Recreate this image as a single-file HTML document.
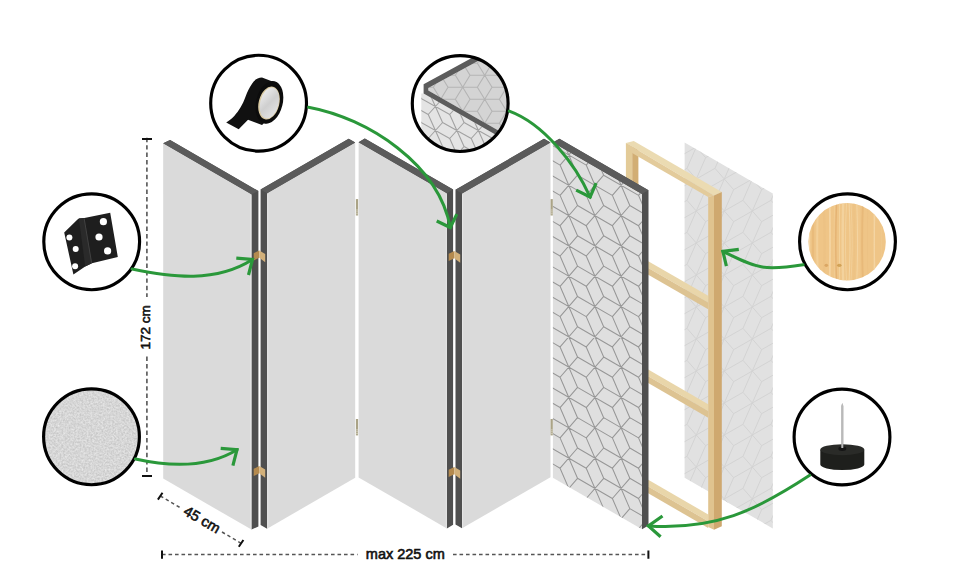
<!DOCTYPE html><html><head><meta charset="utf-8"><style>html,body{margin:0;padding:0;background:#fff;overflow:hidden}svg{display:block}text{font-family:"Liberation Sans",sans-serif}</style></head><body><svg width="960" height="576" viewBox="0 0 960 576"><defs><clipPath id="cSheet"><polygon points="684.6,142.6 772.8,193.5 772.8,528.4 684.6,477.8"/></clipPath><clipPath id="cP5"><polygon points="552.9,142.5 642,193.95 642,529.25 552.9,477.8"/></clipPath><clipPath id="cC2"><circle cx="460.2" cy="103.6" r="47.5"/></clipPath><clipPath id="cWood"><circle cx="847.1" cy="241.8" r="38.7"/></clipPath><filter id="felt" x="0" y="0" width="100%" height="100%" color-interpolation-filters="sRGB"><feTurbulence type="fractalNoise" baseFrequency="0.55" numOctaves="2" seed="5"/><feColorMatrix type="matrix" values="0.2 0 0 0 0.74  0.2 0 0 0 0.74  0.2 0 0 0 0.74  0 0 0 0 1"/><feComposite in2="SourceGraphic" operator="in"/></filter><linearGradient id="core" x1="0" y1="0" x2="1" y2="1"><stop offset="0" stop-color="#f4f4f4"/><stop offset="0.5" stop-color="#cfcfcf"/><stop offset="1" stop-color="#e8e8e8"/></linearGradient></defs><polygon points="684.6,142.6 772.8,193.5 772.8,528.4 684.6,477.8" fill="#e1e1e1"/><g clip-path="url(#cSheet)"><path d="M798.97 104.33L761.63 125.67M789.63 125.67L770.97 104.33M789.63 93.67L770.97 136.33M798.97 136.33L761.63 157.67M789.63 157.67L770.97 136.33M789.63 125.67L770.97 168.33M798.97 168.33L761.63 189.67M789.63 189.67L770.97 168.33M789.63 157.67L770.97 200.33M798.97 200.33L761.63 221.67M789.63 221.67L770.97 200.33M789.63 189.67L770.97 232.33M798.97 232.33L761.63 253.67M789.63 253.67L770.97 232.33M789.63 221.67L770.97 264.33M798.97 264.33L761.63 285.67M789.63 285.67L770.97 264.33M789.63 253.67L770.97 296.33M798.97 296.33L761.63 317.67M789.63 317.67L770.97 296.33M789.63 285.67L770.97 328.33M798.97 328.33L761.63 349.67M789.63 349.67L770.97 328.33M789.63 317.67L770.97 360.33M798.97 360.33L761.63 381.67M789.63 381.67L770.97 360.33M789.63 349.67L770.97 392.33M798.97 392.33L761.63 413.67M789.63 413.67L770.97 392.33M789.63 381.67L770.97 424.33M798.97 424.33L761.63 445.67M789.63 445.67L770.97 424.33M789.63 413.67L770.97 456.33M798.97 456.33L761.63 477.67M789.63 477.67L770.97 456.33M789.63 445.67L770.97 488.33M798.97 488.33L761.63 509.67M789.63 509.67L770.97 488.33M789.63 477.67L770.97 520.33M798.97 520.33L761.63 541.67M789.63 541.67L770.97 520.33M789.63 509.67L770.97 552.33M770.97 104.33L733.63 125.67M761.63 125.67L742.97 104.33M761.63 93.67L742.97 136.33M770.97 136.33L733.63 157.67M761.63 157.67L742.97 136.33M761.63 125.67L742.97 168.33M770.97 168.33L733.63 189.67M761.63 189.67L742.97 168.33M761.63 157.67L742.97 200.33M770.97 200.33L733.63 221.67M761.63 221.67L742.97 200.33M761.63 189.67L742.97 232.33M770.97 232.33L733.63 253.67M761.63 253.67L742.97 232.33M761.63 221.67L742.97 264.33M770.97 264.33L733.63 285.67M761.63 285.67L742.97 264.33M761.63 253.67L742.97 296.33M770.97 296.33L733.63 317.67M761.63 317.67L742.97 296.33M761.63 285.67L742.97 328.33M770.97 328.33L733.63 349.67M761.63 349.67L742.97 328.33M761.63 317.67L742.97 360.33M770.97 360.33L733.63 381.67M761.63 381.67L742.97 360.33M761.63 349.67L742.97 392.33M770.97 392.33L733.63 413.67M761.63 413.67L742.97 392.33M761.63 381.67L742.97 424.33M770.97 424.33L733.63 445.67M761.63 445.67L742.97 424.33M761.63 413.67L742.97 456.33M770.97 456.33L733.63 477.67M761.63 477.67L742.97 456.33M761.63 445.67L742.97 488.33M770.97 488.33L733.63 509.67M761.63 509.67L742.97 488.33M761.63 477.67L742.97 520.33M770.97 520.33L733.63 541.67M761.63 541.67L742.97 520.33M761.63 509.67L742.97 552.33M742.97 104.33L705.63 125.67M733.63 125.67L714.97 104.33M733.63 93.67L714.97 136.33M742.97 136.33L705.63 157.67M733.63 157.67L714.97 136.33M733.63 125.67L714.97 168.33M742.97 168.33L705.63 189.67M733.63 189.67L714.97 168.33M733.63 157.67L714.97 200.33M742.97 200.33L705.63 221.67M733.63 221.67L714.97 200.33M733.63 189.67L714.97 232.33M742.97 232.33L705.63 253.67M733.63 253.67L714.97 232.33M733.63 221.67L714.97 264.33M742.97 264.33L705.63 285.67M733.63 285.67L714.97 264.33M733.63 253.67L714.97 296.33M742.97 296.33L705.63 317.67M733.63 317.67L714.97 296.33M733.63 285.67L714.97 328.33M742.97 328.33L705.63 349.67M733.63 349.67L714.97 328.33M733.63 317.67L714.97 360.33M742.97 360.33L705.63 381.67M733.63 381.67L714.97 360.33M733.63 349.67L714.97 392.33M742.97 392.33L705.63 413.67M733.63 413.67L714.97 392.33M733.63 381.67L714.97 424.33M742.97 424.33L705.63 445.67M733.63 445.67L714.97 424.33M733.63 413.67L714.97 456.33M742.97 456.33L705.63 477.67M733.63 477.67L714.97 456.33M733.63 445.67L714.97 488.33M742.97 488.33L705.63 509.67M733.63 509.67L714.97 488.33M733.63 477.67L714.97 520.33M742.97 520.33L705.63 541.67M733.63 541.67L714.97 520.33M733.63 509.67L714.97 552.33M714.97 104.33L677.63 125.67M705.63 125.67L686.97 104.33M705.63 93.67L686.97 136.33M714.97 136.33L677.63 157.67M705.63 157.67L686.97 136.33M705.63 125.67L686.97 168.33M714.97 168.33L677.63 189.67M705.63 189.67L686.97 168.33M705.63 157.67L686.97 200.33M714.97 200.33L677.63 221.67M705.63 221.67L686.97 200.33M705.63 189.67L686.97 232.33M714.97 232.33L677.63 253.67M705.63 253.67L686.97 232.33M705.63 221.67L686.97 264.33M714.97 264.33L677.63 285.67M705.63 285.67L686.97 264.33M705.63 253.67L686.97 296.33M714.97 296.33L677.63 317.67M705.63 317.67L686.97 296.33M705.63 285.67L686.97 328.33M714.97 328.33L677.63 349.67M705.63 349.67L686.97 328.33M705.63 317.67L686.97 360.33M714.97 360.33L677.63 381.67M705.63 381.67L686.97 360.33M705.63 349.67L686.97 392.33M714.97 392.33L677.63 413.67M705.63 413.67L686.97 392.33M705.63 381.67L686.97 424.33M714.97 424.33L677.63 445.67M705.63 445.67L686.97 424.33M705.63 413.67L686.97 456.33M714.97 456.33L677.63 477.67M705.63 477.67L686.97 456.33M705.63 445.67L686.97 488.33M714.97 488.33L677.63 509.67M705.63 509.67L686.97 488.33M705.63 477.67L686.97 520.33M714.97 520.33L677.63 541.67M705.63 541.67L686.97 520.33M705.63 509.67L686.97 552.33M686.97 104.33L649.63 125.67M677.63 125.67L658.97 104.33M677.63 93.67L658.97 136.33M686.97 136.33L649.63 157.67M677.63 157.67L658.97 136.33M677.63 125.67L658.97 168.33M686.97 168.33L649.63 189.67M677.63 189.67L658.97 168.33M677.63 157.67L658.97 200.33M686.97 200.33L649.63 221.67M677.63 221.67L658.97 200.33M677.63 189.67L658.97 232.33M686.97 232.33L649.63 253.67M677.63 253.67L658.97 232.33M677.63 221.67L658.97 264.33M686.97 264.33L649.63 285.67M677.63 285.67L658.97 264.33M677.63 253.67L658.97 296.33M686.97 296.33L649.63 317.67M677.63 317.67L658.97 296.33M677.63 285.67L658.97 328.33M686.97 328.33L649.63 349.67M677.63 349.67L658.97 328.33M677.63 317.67L658.97 360.33M686.97 360.33L649.63 381.67M677.63 381.67L658.97 360.33M677.63 349.67L658.97 392.33M686.97 392.33L649.63 413.67M677.63 413.67L658.97 392.33M677.63 381.67L658.97 424.33M686.97 424.33L649.63 445.67M677.63 445.67L658.97 424.33M677.63 413.67L658.97 456.33M686.97 456.33L649.63 477.67M677.63 477.67L658.97 456.33M677.63 445.67L658.97 488.33M686.97 488.33L649.63 509.67M677.63 509.67L658.97 488.33M677.63 477.67L658.97 520.33M686.97 520.33L649.63 541.67M677.63 541.67L658.97 520.33M677.63 509.67L658.97 552.33" stroke="#d3d3d3" stroke-width="1" fill="none"/></g><polygon points="625.9,143 632.2,146.5 632.2,200 625.9,200" fill="#e3cb98"/><polygon points="632.2,146.5 638.4,150 638.4,200 632.2,200" fill="#d2ae74"/><polygon points="640,256.38 708.2,295.76 708.2,302.51 640,263.13" fill="#e9d6aa"/><polygon points="640,263.13 708.2,302.51 708.2,309.26 640,269.88" fill="#ddc392"/><polygon points="640,364.78 708.2,404.16 708.2,410.91 640,371.53" fill="#e9d6aa"/><polygon points="640,371.53 708.2,410.91 708.2,417.66 640,378.28" fill="#ddc392"/><polygon points="640,475.08 708.2,514.46 708.2,521.21 640,481.83" fill="#e9d6aa"/><polygon points="640,481.83 708.2,521.21 708.2,527.96 640,488.58" fill="#ddc392"/><polygon points="625.9,143 633.75,141 721.8,191.9 714,195.6" fill="#ebdbb2"/><polygon points="625.9,143 714,195.6 708.2,197 638.4,156.7 632.2,153" fill="#e3cb9b"/><polygon points="708.2,197 714,195.6 714,529.8 708.2,527" fill="#e0c38f"/><polygon points="714,195.6 721.8,191.9 721.8,526.3 714,529.8" fill="#cfa86f"/><polygon points="163.2,143.2 251.5,194.18 251.5,529.58 163.2,478.6" fill="#dadada"/><polygon points="163.2,143.2 170.1,140.1 258.4,191.08 258.4,526.48 251.5,529.58 251.5,194.18" fill="#4f4f4f"/><polygon points="163.2,143.2 251.5,194.18 258.4,191.08 170.1,140.1" fill="#5b5b5b"/><line x1="250.9" y1="195.18" x2="250.9" y2="529.08" stroke="#e6e6e6" stroke-width="1"/><polygon points="355.2,142.4 267.1,193.27 267.1,528.67 355.2,477.8" fill="#dadada"/><polygon points="355.2,142.4 348.7,138.65 260.6,189.52 260.6,524.92 267.1,528.67 267.1,193.27" fill="#4f4f4f"/><polygon points="355.2,142.4 267.1,193.27 260.6,189.52 348.7,138.65" fill="#5b5b5b"/><line x1="267.7" y1="194.27" x2="267.7" y2="528.17" stroke="#e6e6e6" stroke-width="1"/><polygon points="358.6,142.2 446.9,193.18 446.9,528.38 358.6,477.4" fill="#dadada"/><polygon points="358.6,142.2 364.8,138.6 453.1,189.58 453.1,524.78 446.9,528.38 446.9,193.18" fill="#4f4f4f"/><polygon points="358.6,142.2 446.9,193.18 453.1,189.58 364.8,138.6" fill="#5b5b5b"/><line x1="446.3" y1="194.18" x2="446.3" y2="527.88" stroke="#e6e6e6" stroke-width="1"/><polygon points="550.5,142.5 462,193.6 462,528.3 550.5,477.2" fill="#dadada"/><polygon points="550.5,142.5 544,138.75 455.5,189.85 455.5,524.55 462,528.3 462,193.6" fill="#4f4f4f"/><polygon points="550.5,142.5 462,193.6 455.5,189.85 544,138.75" fill="#5b5b5b"/><line x1="462.6" y1="194.6" x2="462.6" y2="527.8" stroke="#e6e6e6" stroke-width="1"/><polygon points="552.9,142.5 642,193.95 642,529.25 552.9,477.8" fill="#dfdfdf"/><g clip-path="url(#cP5)"><path d="M525.22 114.57L560.08 134.77M533.93 134.77L551.37 114.57M533.93 104.46L551.37 144.88M525.22 144.88L560.08 165.08M533.93 165.08L551.37 144.88M533.93 134.77L551.37 175.19M525.22 175.19L560.08 195.39M533.93 195.39L551.37 175.19M533.93 165.08L551.37 205.5M525.22 205.5L560.08 225.7M533.93 225.7L551.37 205.5M533.93 195.39L551.37 235.81M525.22 235.81L560.08 256.01M533.93 256.01L551.37 235.81M533.93 225.7L551.37 266.12M525.22 266.12L560.08 286.32M533.93 286.32L551.37 266.12M533.93 256.01L551.37 296.43M525.22 296.43L560.08 316.63M533.93 316.63L551.37 296.43M533.93 286.32L551.37 326.74M525.22 326.74L560.08 346.94M533.93 346.94L551.37 326.74M533.93 316.63L551.37 357.05M525.22 357.05L560.08 377.25M533.93 377.25L551.37 357.05M533.93 346.94L551.37 387.36M525.22 387.36L560.08 407.56M533.93 407.56L551.37 387.36M533.93 377.25L551.37 417.67M525.22 417.67L560.08 437.87M533.93 437.87L551.37 417.67M533.93 407.56L551.37 447.98M525.22 447.98L560.08 468.18M533.93 468.18L551.37 447.98M533.93 437.87L551.37 478.29M525.22 478.29L560.08 498.49M533.93 498.49L551.37 478.29M533.93 468.18L551.37 508.6M525.22 508.6L560.08 528.8M533.93 528.8L551.37 508.6M533.93 498.49L551.37 538.91M525.22 538.91L560.08 559.11M533.93 559.11L551.37 538.91M533.93 528.8L551.37 569.22M551.37 114.57L586.23 134.77M560.08 134.77L577.52 114.57M560.08 104.46L577.52 144.88M551.37 144.88L586.23 165.08M560.08 165.08L577.52 144.88M560.08 134.77L577.52 175.19M551.37 175.19L586.23 195.39M560.08 195.39L577.52 175.19M560.08 165.08L577.52 205.5M551.37 205.5L586.23 225.7M560.08 225.7L577.52 205.5M560.08 195.39L577.52 235.81M551.37 235.81L586.23 256.01M560.08 256.01L577.52 235.81M560.08 225.7L577.52 266.12M551.37 266.12L586.23 286.32M560.08 286.32L577.52 266.12M560.08 256.01L577.52 296.43M551.37 296.43L586.23 316.63M560.08 316.63L577.52 296.43M560.08 286.32L577.52 326.74M551.37 326.74L586.23 346.94M560.08 346.94L577.52 326.74M560.08 316.63L577.52 357.05M551.37 357.05L586.23 377.25M560.08 377.25L577.52 357.05M560.08 346.94L577.52 387.36M551.37 387.36L586.23 407.56M560.08 407.56L577.52 387.36M560.08 377.25L577.52 417.67M551.37 417.67L586.23 437.87M560.08 437.87L577.52 417.67M560.08 407.56L577.52 447.98M551.37 447.98L586.23 468.18M560.08 468.18L577.52 447.98M560.08 437.87L577.52 478.29M551.37 478.29L586.23 498.49M560.08 498.49L577.52 478.29M560.08 468.18L577.52 508.6M551.37 508.6L586.23 528.8M560.08 528.8L577.52 508.6M560.08 498.49L577.52 538.91M551.37 538.91L586.23 559.11M560.08 559.11L577.52 538.91M560.08 528.8L577.52 569.22M577.52 114.57L612.38 134.77M586.23 134.77L603.67 114.57M586.23 104.46L603.67 144.88M577.52 144.88L612.38 165.08M586.23 165.08L603.67 144.88M586.23 134.77L603.67 175.19M577.52 175.19L612.38 195.39M586.23 195.39L603.67 175.19M586.23 165.08L603.67 205.5M577.52 205.5L612.38 225.7M586.23 225.7L603.67 205.5M586.23 195.39L603.67 235.81M577.52 235.81L612.38 256.01M586.23 256.01L603.67 235.81M586.23 225.7L603.67 266.12M577.52 266.12L612.38 286.32M586.23 286.32L603.67 266.12M586.23 256.01L603.67 296.43M577.52 296.43L612.38 316.63M586.23 316.63L603.67 296.43M586.23 286.32L603.67 326.74M577.52 326.74L612.38 346.94M586.23 346.94L603.67 326.74M586.23 316.63L603.67 357.05M577.52 357.05L612.38 377.25M586.23 377.25L603.67 357.05M586.23 346.94L603.67 387.36M577.52 387.36L612.38 407.56M586.23 407.56L603.67 387.36M586.23 377.25L603.67 417.67M577.52 417.67L612.38 437.87M586.23 437.87L603.67 417.67M586.23 407.56L603.67 447.98M577.52 447.98L612.38 468.18M586.23 468.18L603.67 447.98M586.23 437.87L603.67 478.29M577.52 478.29L612.38 498.49M586.23 498.49L603.67 478.29M586.23 468.18L603.67 508.6M577.52 508.6L612.38 528.8M586.23 528.8L603.67 508.6M586.23 498.49L603.67 538.91M577.52 538.91L612.38 559.11M586.23 559.11L603.67 538.91M586.23 528.8L603.67 569.22M603.67 114.57L638.53 134.77M612.38 134.77L629.82 114.57M612.38 104.46L629.82 144.88M603.67 144.88L638.53 165.08M612.38 165.08L629.82 144.88M612.38 134.77L629.82 175.19M603.67 175.19L638.53 195.39M612.38 195.39L629.82 175.19M612.38 165.08L629.82 205.5M603.67 205.5L638.53 225.7M612.38 225.7L629.82 205.5M612.38 195.39L629.82 235.81M603.67 235.81L638.53 256.01M612.38 256.01L629.82 235.81M612.38 225.7L629.82 266.12M603.67 266.12L638.53 286.32M612.38 286.32L629.82 266.12M612.38 256.01L629.82 296.43M603.67 296.43L638.53 316.63M612.38 316.63L629.82 296.43M612.38 286.32L629.82 326.74M603.67 326.74L638.53 346.94M612.38 346.94L629.82 326.74M612.38 316.63L629.82 357.05M603.67 357.05L638.53 377.25M612.38 377.25L629.82 357.05M612.38 346.94L629.82 387.36M603.67 387.36L638.53 407.56M612.38 407.56L629.82 387.36M612.38 377.25L629.82 417.67M603.67 417.67L638.53 437.87M612.38 437.87L629.82 417.67M612.38 407.56L629.82 447.98M603.67 447.98L638.53 468.18M612.38 468.18L629.82 447.98M612.38 437.87L629.82 478.29M603.67 478.29L638.53 498.49M612.38 498.49L629.82 478.29M612.38 468.18L629.82 508.6M603.67 508.6L638.53 528.8M612.38 528.8L629.82 508.6M612.38 498.49L629.82 538.91M603.67 538.91L638.53 559.11M612.38 559.11L629.82 538.91M612.38 528.8L629.82 569.22M629.82 114.57L664.68 134.77M638.53 134.77L655.97 114.57M638.53 104.46L655.97 144.88M629.82 144.88L664.68 165.08M638.53 165.08L655.97 144.88M638.53 134.77L655.97 175.19M629.82 175.19L664.68 195.39M638.53 195.39L655.97 175.19M638.53 165.08L655.97 205.5M629.82 205.5L664.68 225.7M638.53 225.7L655.97 205.5M638.53 195.39L655.97 235.81M629.82 235.81L664.68 256.01M638.53 256.01L655.97 235.81M638.53 225.7L655.97 266.12M629.82 266.12L664.68 286.32M638.53 286.32L655.97 266.12M638.53 256.01L655.97 296.43M629.82 296.43L664.68 316.63M638.53 316.63L655.97 296.43M638.53 286.32L655.97 326.74M629.82 326.74L664.68 346.94M638.53 346.94L655.97 326.74M638.53 316.63L655.97 357.05M629.82 357.05L664.68 377.25M638.53 377.25L655.97 357.05M638.53 346.94L655.97 387.36M629.82 387.36L664.68 407.56M638.53 407.56L655.97 387.36M638.53 377.25L655.97 417.67M629.82 417.67L664.68 437.87M638.53 437.87L655.97 417.67M638.53 407.56L655.97 447.98M629.82 447.98L664.68 468.18M638.53 468.18L655.97 447.98M638.53 437.87L655.97 478.29M629.82 478.29L664.68 498.49M638.53 498.49L655.97 478.29M638.53 468.18L655.97 508.6M629.82 508.6L664.68 528.8M638.53 528.8L655.97 508.6M638.53 498.49L655.97 538.91M629.82 538.91L664.68 559.11M638.53 559.11L655.97 538.91M638.53 528.8L655.97 569.22M655.97 114.57L690.83 134.77M664.68 134.77L682.12 114.57M664.68 104.46L682.12 144.88M655.97 144.88L690.83 165.08M664.68 165.08L682.12 144.88M664.68 134.77L682.12 175.19M655.97 175.19L690.83 195.39M664.68 195.39L682.12 175.19M664.68 165.08L682.12 205.5M655.97 205.5L690.83 225.7M664.68 225.7L682.12 205.5M664.68 195.39L682.12 235.81M655.97 235.81L690.83 256.01M664.68 256.01L682.12 235.81M664.68 225.7L682.12 266.12M655.97 266.12L690.83 286.32M664.68 286.32L682.12 266.12M664.68 256.01L682.12 296.43M655.97 296.43L690.83 316.63M664.68 316.63L682.12 296.43M664.68 286.32L682.12 326.74M655.97 326.74L690.83 346.94M664.68 346.94L682.12 326.74M664.68 316.63L682.12 357.05M655.97 357.05L690.83 377.25M664.68 377.25L682.12 357.05M664.68 346.94L682.12 387.36M655.97 387.36L690.83 407.56M664.68 407.56L682.12 387.36M664.68 377.25L682.12 417.67M655.97 417.67L690.83 437.87M664.68 437.87L682.12 417.67M664.68 407.56L682.12 447.98M655.97 447.98L690.83 468.18M664.68 468.18L682.12 447.98M664.68 437.87L682.12 478.29M655.97 478.29L690.83 498.49M664.68 498.49L682.12 478.29M664.68 468.18L682.12 508.6M655.97 508.6L690.83 528.8M664.68 528.8L682.12 508.6M664.68 498.49L682.12 538.91M655.97 538.91L690.83 559.11M664.68 559.11L682.12 538.91M664.68 528.8L682.12 569.22" stroke="#979797" stroke-width="1.05" fill="none"/></g><polygon points="552.9,142.5 559.4,138.75 648.5,190.2 648.5,525.5 642,529.25 642,193.95" fill="#4f4f4f"/><polygon points="552.9,142.5 642,193.95 648.5,190.2 559.4,138.75" fill="#5b5b5b"/><polygon points="253.7,253.2 259.3,250.4 259.3,257.7 253.7,260.5" fill="#b48a4f"/><polygon points="259.3,250.4 265.2,253.9 265.2,262.2 259.3,257.7" fill="#d2b07a"/><polygon points="253.7,468.8 259.3,466 259.3,473.3 253.7,476.1" fill="#b48a4f"/><polygon points="259.3,466 265.2,469.5 265.2,477.8 259.3,473.3" fill="#d2b07a"/><polygon points="448.7,253.8 454.3,251 454.3,258.3 448.7,261.1" fill="#b48a4f"/><polygon points="454.3,251 460.2,254.5 460.2,262.8 454.3,258.3" fill="#d2b07a"/><polygon points="448.7,469.8 454.3,467 454.3,474.3 448.7,477.1" fill="#b48a4f"/><polygon points="454.3,467 460.2,470.5 460.2,478.8 454.3,474.3" fill="#d2b07a"/><rect x="355.9" y="199.1" width="2.2" height="16.4" fill="#aaa386"/><rect x="355.9" y="209.6" width="2.2" height="0.8" fill="#d8d4c4"/><rect x="355.9" y="211.5" width="2.2" height="0.8" fill="#d8d4c4"/><rect x="355.9" y="213.4" width="2.2" height="0.8" fill="#d8d4c4"/><rect x="355.9" y="419" width="2.2" height="16.4" fill="#aaa386"/><rect x="355.9" y="429.5" width="2.2" height="0.8" fill="#d8d4c4"/><rect x="355.9" y="431.4" width="2.2" height="0.8" fill="#d8d4c4"/><rect x="355.9" y="433.3" width="2.2" height="0.8" fill="#d8d4c4"/><rect x="550.6" y="199.1" width="2.2" height="16.4" fill="#aaa386"/><rect x="550.6" y="209.6" width="2.2" height="0.8" fill="#d8d4c4"/><rect x="550.6" y="211.5" width="2.2" height="0.8" fill="#d8d4c4"/><rect x="550.6" y="213.4" width="2.2" height="0.8" fill="#d8d4c4"/><rect x="550.6" y="419" width="2.2" height="16.4" fill="#aaa386"/><rect x="550.6" y="429.5" width="2.2" height="0.8" fill="#d8d4c4"/><rect x="550.6" y="431.4" width="2.2" height="0.8" fill="#d8d4c4"/><rect x="550.6" y="433.3" width="2.2" height="0.8" fill="#d8d4c4"/><path d="M262 77.6 C258 77.6 254.3 80 252.2 83.4 C249.2 88 247.2 92 245.6 96.5 C242.6 105 238.6 111 234.5 115.7 C231.5 119 228.6 121 226.2 122.4 L238.7 129.2 L248 119.8 L262 125 L276 112 L279 84 Z" fill="#111"/><ellipse cx="269.4" cy="102.4" rx="13.3" ry="21.7" transform="rotate(14 269.4 102.4)" fill="#0c0c0c"/><ellipse cx="269" cy="103" rx="10.3" ry="16.8" transform="rotate(14 269 103)" fill="#d9c9a0"/><ellipse cx="269.4" cy="103" rx="9.3" ry="15.8" transform="rotate(14 269.4 103)" fill="url(#core)"/><circle cx="258.6" cy="103.2" r="47.9" fill="none" stroke="#000" stroke-width="3.15"/><g clip-path="url(#cC2)"><rect x="405" y="50" width="110" height="110" fill="#fff"/><clipPath id="cLow"><polygon points="421.3,93.6 423.6,93.6 540,159.95 540,160 421.3,160"/></clipPath><clipPath id="cUp"><polygon points="428.3,88.1 540,27.22 540,154.17 428.3,90.5"/></clipPath><polygon points="421.3,93.6 423.6,93.6 540,159.95 540,160 421.3,160" fill="#e4e4e4"/><path d="M378.07 26.5L406.73 42.5M385.23 42.5L399.57 26.5M385.23 18.5L399.57 50.5M378.07 50.5L406.73 66.5M385.23 66.5L399.57 50.5M385.23 42.5L399.57 74.5M378.07 74.5L406.73 90.5M385.23 90.5L399.57 74.5M385.23 66.5L399.57 98.5M378.07 98.5L406.73 114.5M385.23 114.5L399.57 98.5M385.23 90.5L399.57 122.5M378.07 122.5L406.73 138.5M385.23 138.5L399.57 122.5M385.23 114.5L399.57 146.5M378.07 146.5L406.73 162.5M385.23 162.5L399.57 146.5M385.23 138.5L399.57 170.5M378.07 170.5L406.73 186.5M385.23 186.5L399.57 170.5M385.23 162.5L399.57 194.5M399.57 26.5L428.23 42.5M406.73 42.5L421.07 26.5M406.73 18.5L421.07 50.5M399.57 50.5L428.23 66.5M406.73 66.5L421.07 50.5M406.73 42.5L421.07 74.5M399.57 74.5L428.23 90.5M406.73 90.5L421.07 74.5M406.73 66.5L421.07 98.5M399.57 98.5L428.23 114.5M406.73 114.5L421.07 98.5M406.73 90.5L421.07 122.5M399.57 122.5L428.23 138.5M406.73 138.5L421.07 122.5M406.73 114.5L421.07 146.5M399.57 146.5L428.23 162.5M406.73 162.5L421.07 146.5M406.73 138.5L421.07 170.5M399.57 170.5L428.23 186.5M406.73 186.5L421.07 170.5M406.73 162.5L421.07 194.5M421.07 26.5L449.73 42.5M428.23 42.5L442.57 26.5M428.23 18.5L442.57 50.5M421.07 50.5L449.73 66.5M428.23 66.5L442.57 50.5M428.23 42.5L442.57 74.5M421.07 74.5L449.73 90.5M428.23 90.5L442.57 74.5M428.23 66.5L442.57 98.5M421.07 98.5L449.73 114.5M428.23 114.5L442.57 98.5M428.23 90.5L442.57 122.5M421.07 122.5L449.73 138.5M428.23 138.5L442.57 122.5M428.23 114.5L442.57 146.5M421.07 146.5L449.73 162.5M428.23 162.5L442.57 146.5M428.23 138.5L442.57 170.5M421.07 170.5L449.73 186.5M428.23 186.5L442.57 170.5M428.23 162.5L442.57 194.5M442.57 26.5L471.23 42.5M449.73 42.5L464.07 26.5M449.73 18.5L464.07 50.5M442.57 50.5L471.23 66.5M449.73 66.5L464.07 50.5M449.73 42.5L464.07 74.5M442.57 74.5L471.23 90.5M449.73 90.5L464.07 74.5M449.73 66.5L464.07 98.5M442.57 98.5L471.23 114.5M449.73 114.5L464.07 98.5M449.73 90.5L464.07 122.5M442.57 122.5L471.23 138.5M449.73 138.5L464.07 122.5M449.73 114.5L464.07 146.5M442.57 146.5L471.23 162.5M449.73 162.5L464.07 146.5M449.73 138.5L464.07 170.5M442.57 170.5L471.23 186.5M449.73 186.5L464.07 170.5M449.73 162.5L464.07 194.5M464.07 26.5L492.73 42.5M471.23 42.5L485.57 26.5M471.23 18.5L485.57 50.5M464.07 50.5L492.73 66.5M471.23 66.5L485.57 50.5M471.23 42.5L485.57 74.5M464.07 74.5L492.73 90.5M471.23 90.5L485.57 74.5M471.23 66.5L485.57 98.5M464.07 98.5L492.73 114.5M471.23 114.5L485.57 98.5M471.23 90.5L485.57 122.5M464.07 122.5L492.73 138.5M471.23 138.5L485.57 122.5M471.23 114.5L485.57 146.5M464.07 146.5L492.73 162.5M471.23 162.5L485.57 146.5M471.23 138.5L485.57 170.5M464.07 170.5L492.73 186.5M471.23 186.5L485.57 170.5M471.23 162.5L485.57 194.5M485.57 26.5L514.23 42.5M492.73 42.5L507.07 26.5M492.73 18.5L507.07 50.5M485.57 50.5L514.23 66.5M492.73 66.5L507.07 50.5M492.73 42.5L507.07 74.5M485.57 74.5L514.23 90.5M492.73 90.5L507.07 74.5M492.73 66.5L507.07 98.5M485.57 98.5L514.23 114.5M492.73 114.5L507.07 98.5M492.73 90.5L507.07 122.5M485.57 122.5L514.23 138.5M492.73 138.5L507.07 122.5M492.73 114.5L507.07 146.5M485.57 146.5L514.23 162.5M492.73 162.5L507.07 146.5M492.73 138.5L507.07 170.5M485.57 170.5L514.23 186.5M492.73 186.5L507.07 170.5M492.73 162.5L507.07 194.5M507.07 26.5L535.73 42.5M514.23 42.5L528.57 26.5M514.23 18.5L528.57 50.5M507.07 50.5L535.73 66.5M514.23 66.5L528.57 50.5M514.23 42.5L528.57 74.5M507.07 74.5L535.73 90.5M514.23 90.5L528.57 74.5M514.23 66.5L528.57 98.5M507.07 98.5L535.73 114.5M514.23 114.5L528.57 98.5M514.23 90.5L528.57 122.5M507.07 122.5L535.73 138.5M514.23 138.5L528.57 122.5M514.23 114.5L528.57 146.5M507.07 146.5L535.73 162.5M514.23 162.5L528.57 146.5M514.23 138.5L528.57 170.5M507.07 170.5L535.73 186.5M514.23 186.5L528.57 170.5M514.23 162.5L528.57 194.5M528.57 26.5L557.23 42.5M535.73 42.5L550.07 26.5M535.73 18.5L550.07 50.5M528.57 50.5L557.23 66.5M535.73 66.5L550.07 50.5M535.73 42.5L550.07 74.5M528.57 74.5L557.23 90.5M535.73 90.5L550.07 74.5M535.73 66.5L550.07 98.5M528.57 98.5L557.23 114.5M535.73 114.5L550.07 98.5M535.73 90.5L550.07 122.5M528.57 122.5L557.23 138.5M535.73 138.5L550.07 122.5M535.73 114.5L550.07 146.5M528.57 146.5L557.23 162.5M535.73 162.5L550.07 146.5M535.73 138.5L550.07 170.5M528.57 170.5L557.23 186.5M535.73 186.5L550.07 170.5M535.73 162.5L550.07 194.5" stroke="#a2a2a2" stroke-width="1.1" fill="none" clip-path="url(#cLow)"/><polygon points="428.3,88.1 540,27.22 540,154.17 428.3,90.5" fill="#d4d4d4"/><path d="M382.03 27.3L411.37 27.3M389.37 39.3L404.03 15.3M389.37 15.3L404.03 39.3M382.03 51.3L411.37 51.3M389.37 63.3L404.03 39.3M389.37 39.3L404.03 63.3M382.03 75.3L411.37 75.3M389.37 87.3L404.03 63.3M389.37 63.3L404.03 87.3M382.03 99.3L411.37 99.3M389.37 111.3L404.03 87.3M389.37 87.3L404.03 111.3M382.03 123.3L411.37 123.3M389.37 135.3L404.03 111.3M389.37 111.3L404.03 135.3M382.03 147.3L411.37 147.3M389.37 159.3L404.03 135.3M389.37 135.3L404.03 159.3M382.03 171.3L411.37 171.3M389.37 183.3L404.03 159.3M389.37 159.3L404.03 183.3M404.03 39.3L433.37 39.3M411.37 51.3L426.03 27.3M411.37 27.3L426.03 51.3M404.03 63.3L433.37 63.3M411.37 75.3L426.03 51.3M411.37 51.3L426.03 75.3M404.03 87.3L433.37 87.3M411.37 99.3L426.03 75.3M411.37 75.3L426.03 99.3M404.03 111.3L433.37 111.3M411.37 123.3L426.03 99.3M411.37 99.3L426.03 123.3M404.03 135.3L433.37 135.3M411.37 147.3L426.03 123.3M411.37 123.3L426.03 147.3M404.03 159.3L433.37 159.3M411.37 171.3L426.03 147.3M411.37 147.3L426.03 171.3M404.03 183.3L433.37 183.3M411.37 195.3L426.03 171.3M411.37 171.3L426.03 195.3M426.03 27.3L455.37 27.3M433.37 39.3L448.03 15.3M433.37 15.3L448.03 39.3M426.03 51.3L455.37 51.3M433.37 63.3L448.03 39.3M433.37 39.3L448.03 63.3M426.03 75.3L455.37 75.3M433.37 87.3L448.03 63.3M433.37 63.3L448.03 87.3M426.03 99.3L455.37 99.3M433.37 111.3L448.03 87.3M433.37 87.3L448.03 111.3M426.03 123.3L455.37 123.3M433.37 135.3L448.03 111.3M433.37 111.3L448.03 135.3M426.03 147.3L455.37 147.3M433.37 159.3L448.03 135.3M433.37 135.3L448.03 159.3M426.03 171.3L455.37 171.3M433.37 183.3L448.03 159.3M433.37 159.3L448.03 183.3M448.03 39.3L477.37 39.3M455.37 51.3L470.03 27.3M455.37 27.3L470.03 51.3M448.03 63.3L477.37 63.3M455.37 75.3L470.03 51.3M455.37 51.3L470.03 75.3M448.03 87.3L477.37 87.3M455.37 99.3L470.03 75.3M455.37 75.3L470.03 99.3M448.03 111.3L477.37 111.3M455.37 123.3L470.03 99.3M455.37 99.3L470.03 123.3M448.03 135.3L477.37 135.3M455.37 147.3L470.03 123.3M455.37 123.3L470.03 147.3M448.03 159.3L477.37 159.3M455.37 171.3L470.03 147.3M455.37 147.3L470.03 171.3M448.03 183.3L477.37 183.3M455.37 195.3L470.03 171.3M455.37 171.3L470.03 195.3M470.03 27.3L499.37 27.3M477.37 39.3L492.03 15.3M477.37 15.3L492.03 39.3M470.03 51.3L499.37 51.3M477.37 63.3L492.03 39.3M477.37 39.3L492.03 63.3M470.03 75.3L499.37 75.3M477.37 87.3L492.03 63.3M477.37 63.3L492.03 87.3M470.03 99.3L499.37 99.3M477.37 111.3L492.03 87.3M477.37 87.3L492.03 111.3M470.03 123.3L499.37 123.3M477.37 135.3L492.03 111.3M477.37 111.3L492.03 135.3M470.03 147.3L499.37 147.3M477.37 159.3L492.03 135.3M477.37 135.3L492.03 159.3M470.03 171.3L499.37 171.3M477.37 183.3L492.03 159.3M477.37 159.3L492.03 183.3M492.03 39.3L521.37 39.3M499.37 51.3L514.03 27.3M499.37 27.3L514.03 51.3M492.03 63.3L521.37 63.3M499.37 75.3L514.03 51.3M499.37 51.3L514.03 75.3M492.03 87.3L521.37 87.3M499.37 99.3L514.03 75.3M499.37 75.3L514.03 99.3M492.03 111.3L521.37 111.3M499.37 123.3L514.03 99.3M499.37 99.3L514.03 123.3M492.03 135.3L521.37 135.3M499.37 147.3L514.03 123.3M499.37 123.3L514.03 147.3M492.03 159.3L521.37 159.3M499.37 171.3L514.03 147.3M499.37 147.3L514.03 171.3M492.03 183.3L521.37 183.3M499.37 195.3L514.03 171.3M499.37 171.3L514.03 195.3M514.03 27.3L543.37 27.3M521.37 39.3L536.03 15.3M521.37 15.3L536.03 39.3M514.03 51.3L543.37 51.3M521.37 63.3L536.03 39.3M521.37 39.3L536.03 63.3M514.03 75.3L543.37 75.3M521.37 87.3L536.03 63.3M521.37 63.3L536.03 87.3M514.03 99.3L543.37 99.3M521.37 111.3L536.03 87.3M521.37 87.3L536.03 111.3M514.03 123.3L543.37 123.3M521.37 135.3L536.03 111.3M521.37 111.3L536.03 135.3M514.03 147.3L543.37 147.3M521.37 159.3L536.03 135.3M521.37 135.3L536.03 159.3M514.03 171.3L543.37 171.3M521.37 183.3L536.03 159.3M521.37 159.3L536.03 183.3" stroke="#b4b4b4" stroke-width="1.1" fill="none" clip-path="url(#cUp)"/><path d="M423.6 84.2 L540 20.76 L540 27.22 L428.3 88.1 L428.3 90.5 L540 154.17 L540 159.95 L423.6 93.6Z" fill="#5c5c5c"/></g><circle cx="460.2" cy="103.6" r="47.9" fill="none" stroke="#000" stroke-width="3.15"/><polygon points="64.2,232.4 77.5,219.6 78.9,218.4 84.4,217.9 110.2,212.8 117.8,256.9 91.9,263.2 85.2,266.4 73.4,274.6" fill="#1e1e1e"/><polygon points="78.9,218.4 84.4,217.9 91.9,263.2 85.2,266.4" fill="#2a2a2a"/><circle cx="103.4" cy="221.7" r="3.6" fill="#fff"/><circle cx="99" cy="237" r="3.6" fill="#fff"/><circle cx="107.6" cy="250.9" r="3.6" fill="#fff"/><circle cx="69.4" cy="237.5" r="3" fill="#fff"/><circle cx="75.7" cy="249" r="3" fill="#fff"/><circle cx="75.1" cy="266.2" r="3" fill="#fff"/><line x1="84.2" y1="218.6" x2="91.6" y2="262.8" stroke="#484848" stroke-width="0.8"/><circle cx="91.7" cy="241.8" r="47.9" fill="none" stroke="#000" stroke-width="3.15"/><circle cx="847.1" cy="241.8" r="38.7" fill="#efc587"/><g clip-path="url(#cWood)"><path d="M808 200 Q809.69 242 808 284 L809.4 284 Q811.09 242 809.4 200Z" fill="#f7dcb0" opacity="0.74"/><path d="M811.88 200 Q811.95 242 811.88 284 L814.09 284 Q814.16 242 814.09 200Z" fill="#e2ae6e" opacity="0.43"/><path d="M817.22 200 Q815.07 242 817.22 284 L819.3 284 Q817.15 242 819.3 200Z" fill="#f5d8a8" opacity="0.55"/><path d="M822.1 200 Q824.99 242 822.1 284 L824.38 284 Q827.27 242 824.38 200Z" fill="#e9bd80" opacity="0.37"/><path d="M828.75 200 Q829.49 242 828.75 284 L830.55 284 Q831.29 242 830.55 200Z" fill="#f7dcb0" opacity="0.64"/><path d="M834.43 200 Q832.88 242 834.43 284 L835.06 284 Q833.51 242 835.06 200Z" fill="#f5d8a8" opacity="0.44"/><path d="M835.97 200 Q834.14 242 835.97 284 L837.4 284 Q835.57 242 837.4 200Z" fill="#dfa868" opacity="0.62"/><path d="M839.06 200 Q838.81 242 839.06 284 L840.15 284 Q839.89 242 840.15 200Z" fill="#f5d8a8" opacity="0.65"/><path d="M841.98 200 Q840.87 242 841.98 284 L844.47 284 Q843.37 242 844.47 200Z" fill="#f5d8a8" opacity="0.67"/><path d="M846.12 200 Q843.77 242 846.12 284 L847.2 284 Q844.85 242 847.2 200Z" fill="#f5d8a8" opacity="0.6"/><path d="M848.4 200 Q850.49 242 848.4 284 L849.48 284 Q851.57 242 849.48 200Z" fill="#f5d8a8" opacity="0.78"/><path d="M850.29 200 Q853.17 242 850.29 284 L851.2 284 Q854.09 242 851.2 200Z" fill="#f5d8a8" opacity="0.56"/><path d="M853.48 200 Q854.52 242 853.48 284 L854.12 284 Q855.17 242 854.12 200Z" fill="#e9bd80" opacity="0.44"/><path d="M856.17 200 Q857.72 242 856.17 284 L857.29 284 Q858.84 242 857.29 200Z" fill="#f5d8a8" opacity="0.78"/><path d="M858.53 200 Q858.32 242 858.53 284 L859.52 284 Q859.31 242 859.52 200Z" fill="#f5d8a8" opacity="0.35"/><path d="M862.12 200 Q860.26 242 862.12 284 L863.98 284 Q862.13 242 863.98 200Z" fill="#e2ae6e" opacity="0.55"/><path d="M867.49 200 Q866.86 242 867.49 284 L868.25 284 Q867.62 242 868.25 200Z" fill="#e9bd80" opacity="0.52"/><path d="M872.72 200 Q875.03 242 872.72 284 L873.22 284 Q875.53 242 873.22 200Z" fill="#f7dcb0" opacity="0.49"/><path d="M874.8 200 Q872.4 242 874.8 284 L876.09 284 Q873.69 242 876.09 200Z" fill="#f7dcb0" opacity="0.64"/><path d="M880.55 200 Q881.21 242 880.55 284 L881.47 284 Q882.14 242 881.47 200Z" fill="#f2d29c" opacity="0.35"/><path d="M885.35 200 Q885.84 242 885.35 284 L886.62 284 Q887.11 242 886.62 200Z" fill="#f5d8a8" opacity="0.39"/><ellipse cx="826.3" cy="265.3" rx="1.8" ry="1.6" fill="#d39a55" opacity="0.7"/><ellipse cx="839.3" cy="265.3" rx="2.2" ry="1.6" fill="#c4923f" opacity="0.7"/></g><circle cx="847.5" cy="241.8" r="47.9" fill="none" stroke="#000" stroke-width="3.15"/><circle cx="91.5" cy="436.8" r="47" fill="#d6d6d6"/><circle cx="91.5" cy="436.8" r="47" fill="#f2f2f2" filter="url(#felt)"/><circle cx="91.5" cy="436.8" r="47.9" fill="none" stroke="#000" stroke-width="3.15"/><path d="M841.3 448 L841.3 406 L842.3 403 L843.3 406 L843.3 448Z" fill="#b9b9b9"/><path d="M820.3 449.7 L820.3 464.5 A22 5.5 0 0 0 864.3 464.5 L864.3 449.7Z" fill="#1e1f1c"/><ellipse cx="842.3" cy="449.7" rx="22" ry="5.5" fill="#2a2b28"/><ellipse cx="842.3" cy="448.8" rx="4" ry="2.2" fill="#151515"/><path d="M841.3 448 L841.3 406 L842.3 403 L843.3 406 L843.3 448Z" fill="#b9b9b9"/><circle cx="842" cy="437" r="47.9" fill="none" stroke="#000" stroke-width="3.15"/><path d="M146.9 137.8 V297 M146.9 356.6 V475" stroke="#555" stroke-width="1.6" stroke-dasharray="4.4 3" fill="none"/><path d="M142 139 H152 M142 476 H152" stroke="#111" stroke-width="2" fill="none"/><text x="0" y="0" font-size="13.5" fill="#111" stroke="#111" stroke-width="0.6" text-anchor="middle" transform="translate(149.8 327.3) rotate(-90)">172 cm</text><path d="M160.3 496 L180 507.5 M222 532 L241.1 543.3" stroke="#555" stroke-width="1.5" stroke-dasharray="3.4 2.9" fill="none"/><path d="M157.9 499.6 L162.5 492.8 M238.8 546.8 L243.4 540" stroke="#111" stroke-width="2" fill="none"/><text x="0" y="0" font-size="14.5" fill="#111" stroke="#111" stroke-width="0.6" text-anchor="middle" transform="translate(199.6 523.9) rotate(30)">45 cm</text><path d="M162 554.6 H357.6 M453 554.6 H648.4" stroke="#555" stroke-width="1.5" stroke-dasharray="3.6 2.9" fill="none"/><path d="M162 550.5 V558.7 M648.4 550.5 V558.7" stroke="#111" stroke-width="2" fill="none"/><text x="405.3" y="558.7" font-size="14.5" fill="#111" stroke="#111" stroke-width="0.6" text-anchor="middle">max 225 cm</text><path d="M308.5 107.2 C368.0 118.1 438.7 164.3 450.3 227.5" stroke="#2a983a" stroke-width="3" fill="none" stroke-linecap="round"/><path d="M436.7 221 L450.3 227.5 L456.8 214.1" stroke="#2a983a" stroke-width="3.2" fill="none" stroke-linecap="butt" stroke-linejoin="miter"/><path d="M132.0 269.0 C172.6 277.3 215.4 283.0 252.5 259.5" stroke="#2a983a" stroke-width="3" fill="none" stroke-linecap="round"/><path d="M236.3 258.1 L252.5 259.5 L248.5 275" stroke="#2a983a" stroke-width="3.2" fill="none" stroke-linecap="butt" stroke-linejoin="miter"/><path d="M135.4 459.0 C169.1 466.5 206.4 468.5 237.0 449.7" stroke="#2a983a" stroke-width="3" fill="none" stroke-linecap="round"/><path d="M220.7 448.4 L237 449.7 L232.9 465.7" stroke="#2a983a" stroke-width="3.2" fill="none" stroke-linecap="butt" stroke-linejoin="miter"/><path d="M509.3 111.1 C543.9 123.8 575.5 164.2 590.1 197.0" stroke="#2a983a" stroke-width="3" fill="none" stroke-linecap="round"/><path d="M576.2 190.1 L590.1 197 L596.1 183.1" stroke="#2a983a" stroke-width="3.2" fill="none" stroke-linecap="butt" stroke-linejoin="miter"/><path d="M803.1 264.8 C763.8 271.0 757.4 268.5 722.9 251.4" stroke="#2a983a" stroke-width="3" fill="none" stroke-linecap="round"/><path d="M738.8 249.4 L722.9 251.4 L726.4 266.2" stroke="#2a983a" stroke-width="3.2" fill="none" stroke-linecap="butt" stroke-linejoin="miter"/><path d="M809.7 475.3 C755.2 511.1 714.8 530.2 648.4 525.9" stroke="#2a983a" stroke-width="3" fill="none" stroke-linecap="round"/><path d="M662.5 516 L648.4 525.9 L660.6 536.8" stroke="#2a983a" stroke-width="3.2" fill="none" stroke-linecap="butt" stroke-linejoin="miter"/></svg></body></html>
